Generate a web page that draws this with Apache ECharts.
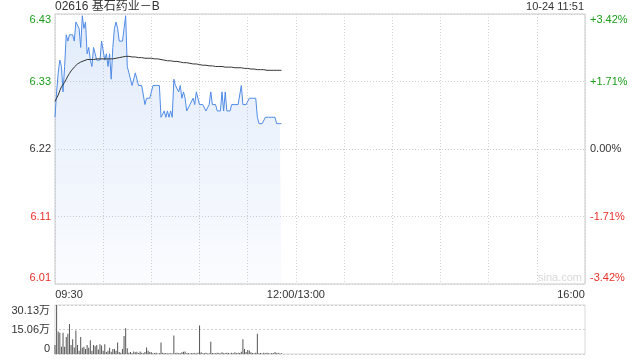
<!DOCTYPE html>
<html>
<head>
<meta charset="utf-8">
<script src="https://cdn.jsdelivr.net/npm/echarts@6/dist/echarts.min.js"></script>
<style>html,body{margin:0;padding:0;background:#fff;}#c{width:640px;height:360px;}</style>
</head>
<body>
<div id="c"></div>
<script>
const titleText = '02616 基石药业－B';
const stampText = '10-24 11:51';
const prevClose = 6.22;
const timeTickLabels = { 0: '09:30', 150: '12:00/13:00', 330: '16:00' };
const priceTickLabels = ['6.01', '6.11', '6.22', '6.33', '6.43'];
const pctTickLabels = ['-3.42%', '-1.71%', '0.00%', '+1.71%', '+3.42%'];
const volTickLabels = ['0', '15.06万', '30.13万'];

const prices = [
6.27,6.31,6.34,6.36,6.35,6.31,6.35,6.40,6.39,6.40,
6.40,6.40,6.39,6.42,6.42,6.41,6.38,6.43,6.41,6.42,
6.37,6.38,6.36,6.35,6.38,6.38,6.36,6.36,6.36,6.39,
6.39,6.36,6.37,6.35,6.37,6.33,6.38,6.41,6.42,6.41,
6.39,6.39,6.39,6.41,6.43,6.35,6.34,6.34,6.32,6.32,
6.34,6.34,6.32,6.32,6.32,6.32,6.29,6.30,6.30,6.30,
6.31,6.32,6.32,6.32,6.32,6.32,6.27,6.27,6.28,6.27,
6.28,6.27,6.28,6.27,6.33,6.32,6.32,6.31,6.32,6.30,
6.31,6.30,6.28,6.28,6.29,6.29,6.30,6.29,6.31,6.30,
6.29,6.29,6.29,6.29,6.28,6.28,6.29,6.31,6.29,6.29,
6.29,6.28,6.28,6.28,6.31,6.28,6.31,6.28,6.28,6.28,
6.29,6.29,6.29,6.29,6.29,6.29,6.32,6.29,6.29,6.29,
6.29,6.30,6.30,6.30,6.30,6.30,6.27,6.26,6.26,6.26,
6.26,6.27,6.27,6.27,6.27,6.27,6.27,6.27,6.26,6.26,
6.26,6.26
];

const avgPrices = [
6.295,6.300,6.305,6.312,6.318,6.321,6.325,6.330,6.335,6.339,
6.343,6.346,6.349,6.352,6.354,6.356,6.357,6.358,6.359,6.360,
6.361,6.361,6.361,6.361,6.361,6.362,6.362,6.362,6.362,6.362,
6.362,6.362,6.362,6.362,6.362,6.362,6.362,6.363,6.363,6.364,
6.364,6.365,6.365,6.365,6.366,6.366,6.366,6.365,6.365,6.365,
6.365,6.365,6.364,6.364,6.364,6.364,6.363,6.363,6.363,6.363,
6.363,6.362,6.362,6.362,6.362,6.361,6.361,6.360,6.360,6.360,
6.359,6.359,6.359,6.358,6.358,6.358,6.358,6.357,6.357,6.357,
6.356,6.356,6.356,6.355,6.355,6.355,6.354,6.354,6.354,6.353,
6.353,6.353,6.352,6.352,6.352,6.352,6.351,6.351,6.351,6.351,
6.350,6.350,6.350,6.350,6.350,6.349,6.349,6.349,6.349,6.349,
6.349,6.349,6.348,6.348,6.348,6.348,6.348,6.347,6.347,6.347,
6.347,6.347,6.346,6.346,6.346,6.346,6.345,6.345,6.345,6.345,
6.345,6.344,6.344,6.344,6.344,6.344,6.344,6.344,6.344,6.344,
6.344,6.344
];

const volumes = [
56000,301300,138000,130000,44000,130000,45000,105000,125000,184000,
55000,90000,40000,145000,55000,20000,105000,38000,45000,30000,
55000,38000,85000,20000,55000,48000,55000,28000,60000,52000,
20000,60000,12000,20000,38000,14000,30000,30000,20000,70000,
12000,8000,30000,110000,159000,35000,8000,12000,5000,15000,
10000,14000,6000,15000,8000,5000,12000,40000,20000,12000,
10000,4000,6000,8000,3000,4000,70000,8000,5000,6000,
3000,5000,4000,3000,113000,4000,8000,6000,5000,10000,
14000,15000,4000,6000,3000,5000,4000,6000,3000,8000,
175000,10000,5000,4000,8000,3000,5000,76000,6000,4000,
5000,8000,6000,3000,10000,4000,5000,8000,6000,3000,
8000,5000,10000,5000,8000,6000,14000,91000,30000,12000,
25000,22000,10000,6000,4000,8000,124000,5000,6000,3000,
8000,5000,7000,4000,3000,6000,5000,12000,4000,8000,
3000,5000
];

const GREEN = '#1a9e1a', RED = '#e8302a', TXT = '#333';
const FONT = 'Arial, "Liberation Sans", "Noto Sans CJK SC", sans-serif';

const priceData = prices.map((p, i) => [i, (p / prevClose - 1) * 100]);
const avgData = avgPrices.map((p, i) => [i, (p / prevClose - 1) * 100]);
const volData = volumes.map((v, i) => [i, v]);

function pctIndex(v) { return Math.round((v + 3.42) / 1.71); }
function styleKey(k) {
  const c = k > 2 ? 'g' : (k < 2 ? 'r' : 'n');
  const p = k === 4 ? 'T' : (k === 0 ? 'B' : '');
  return c + p;
}
const labelRich = {
  g: { color: GREEN }, gT: { color: GREEN, padding: [12, 0, 0, 0] },
  r: { color: RED }, rB: { color: RED, padding: [0, 0, 12, 0] },
  n: { color: TXT }
};

const chart = echarts.init(document.getElementById('c'), null, { renderer: 'canvas' });
chart.setOption({
  animation: false,
  textStyle: { fontFamily: FONT },
  graphic: [
    { type: 'text', left: 55, top: 1, style: { text: titleText, fontSize: 12, fill: TXT, fontFamily: FONT } },
    { type: 'text', right: 56, top: 1, style: { text: stampText, fontSize: 11, fill: TXT, fontFamily: FONT } },
    { type: 'text', left: 538, top: 272, style: { text: 'sina.com', fontSize: 11, fill: '#d8d8d8', fontFamily: FONT } }
  ],
  grid: [
    { left: 55, right: 55, top: 14, height: 270, show: true, borderColor: '#c8c8c8', borderWidth: 1 },
    { left: 55, right: 55, top: 305, height: 49, show: true, borderColor: '#d8d8d8', borderWidth: 1 }
  ],
  xAxis: [
    {
      type: 'value', gridIndex: 0, min: 0, max: 330, interval: 30,
      axisLine: { show: false }, axisTick: { show: false },
      splitLine: { show: true, lineStyle: { color: '#d0d0d0', type: [1, 2] } },
      axisLabel: {
        show: true, fontSize: 11, color: TXT, margin: 5, showMinLabel: true, showMaxLabel: true,
        formatter: function (v) {
          const s = timeTickLabels[v];
          if (!s) return '';
          if (v === 0) return '{l|' + s + '}';
          if (v === 330) return '{r|' + s + '}';
          return '{c|' + s + '}';
        },
        rich: { l: { padding: [0, 0, 0, 28] }, r: { padding: [0, 28, 0, 0] }, c: {} }
      }
    },
    {
      type: 'value', gridIndex: 1, min: 0, max: 330, interval: 30,
      axisLine: { show: false }, axisTick: { show: false }, axisLabel: { show: false },
      splitLine: { show: false }
    }
  ],
  yAxis: [
    {
      type: 'value', gridIndex: 0, min: -3.42, max: 3.42, interval: 1.71, position: 'left',
      axisLine: { show: false }, axisTick: { show: false },
      splitLine: { show: true, lineStyle: { color: '#d0d0d0', type: [1, 2] } },
      axisLabel: {
        fontSize: 11, margin: 4,
        formatter: function (v) { const k = pctIndex(v); return '{' + styleKey(k) + '|' + priceTickLabels[k] + '}'; },
        rich: labelRich
      }
    },
    {
      type: 'value', gridIndex: 0, min: -3.42, max: 3.42, interval: 1.71, position: 'right',
      axisLine: { show: false }, axisTick: { show: false }, splitLine: { show: false },
      axisLabel: {
        fontSize: 11, margin: 5,
        formatter: function (v) { const k = pctIndex(v); return '{' + styleKey(k) + '|' + pctTickLabels[k] + '}'; },
        rich: labelRich
      }
    },
    {
      type: 'value', gridIndex: 1, min: 0, max: 301300, interval: 150650,
      axisLine: { show: false }, axisTick: { show: false },
      splitLine: { show: true, lineStyle: { color: '#cfcfcf', type: [2, 2], width: 1 } },
      axisLabel: {
        fontSize: 11, color: TXT, margin: 5,
        formatter: function (v) {
          const k = Math.round(v / 150650);
          if (k === 2) return '{t|' + volTickLabels[k] + '}';
          if (k === 0) return '{b|' + volTickLabels[k] + '}';
          return volTickLabels[k];
        },
        rich: { t: { padding: [12, 0, 0, 0] }, b: { padding: [0, 0, 10, 0] } }
      }
    }
  ],
  series: [
    {
      type: 'line', xAxisIndex: 0, yAxisIndex: 0, data: priceData, showSymbol: false, z: 3,
      lineStyle: { color: '#4f8be6', width: 1 },
      areaStyle: {
        origin: 'start',
        color: new echarts.graphic.LinearGradient(0, 0, 0, 1, [
          { offset: 0, color: 'rgba(79,139,230,0.24)' },
          { offset: 1, color: 'rgba(79,139,230,0.04)' }
        ])
      }
    },
    {
      type: 'line', xAxisIndex: 0, yAxisIndex: 0, data: avgData, showSymbol: false, z: 4,
      lineStyle: { color: '#333', width: 1 }
    },
    {
      type: 'bar', xAxisIndex: 1, yAxisIndex: 2, data: volData, barWidth: 1,
      itemStyle: { color: '#555' }
    }
  ]
});
</script>
</body>
</html>
